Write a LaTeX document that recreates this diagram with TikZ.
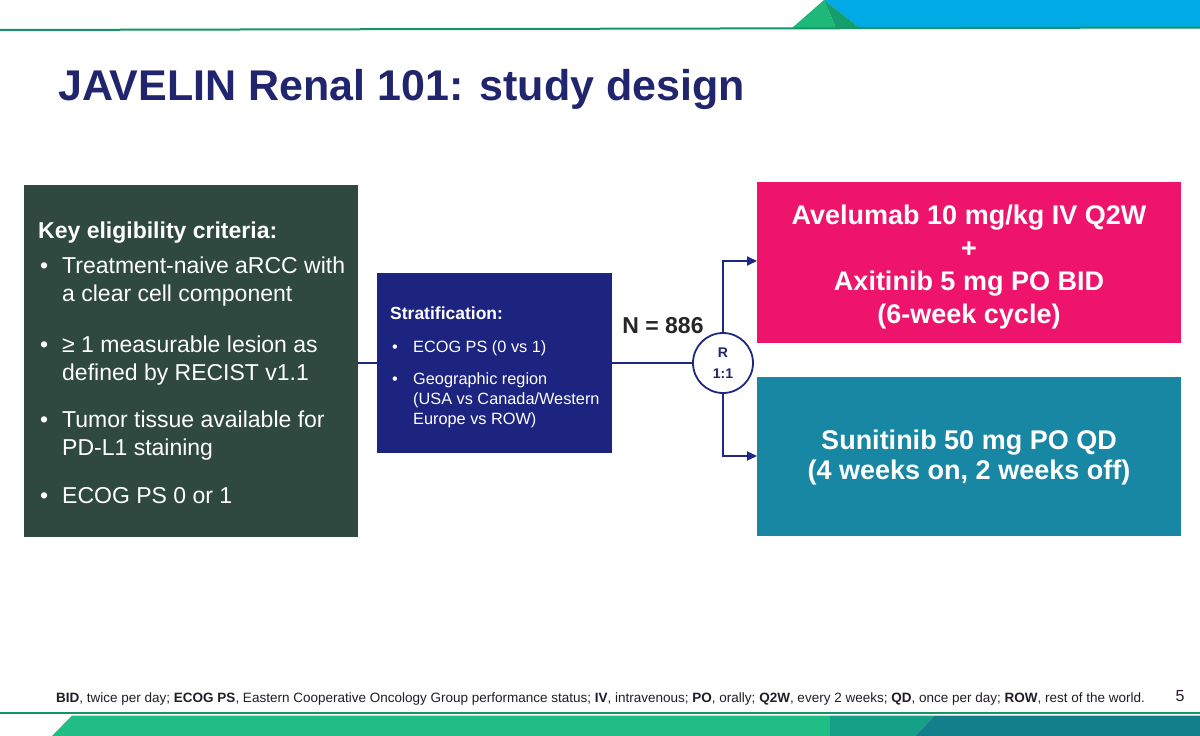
\documentclass[tikz,border=0pt]{standalone}
\usepackage{fontspec}
\setmainfont{Liberation Sans}
\usetikzlibrary{arrows.meta}
\definecolor{eligbg}{RGB}{47,73,64}
\definecolor{stratbg}{RGB}{28,36,128}
\definecolor{armpink}{RGB}{238,20,108}
\definecolor{armteal}{RGB}{24,135,163}
\definecolor{connavy}{RGB}{30,40,130}
\definecolor{titlenavy}{RGB}{33,37,110}
\definecolor{topblue}{RGB}{0,170,228}
\definecolor{lgreen}{RGB}{30,185,120}
\definecolor{dgreen}{RGB}{20,158,110}
\definecolor{linegreen}{RGB}{20,150,100}
\definecolor{bandgreen}{RGB}{32,190,132}
\definecolor{bandmid}{RGB}{22,160,135}
\definecolor{bandteal}{RGB}{18,128,138}
\definecolor{footcol}{RGB}{35,28,40}
\tikzset{
  box/.style={inner sep=0pt, outer sep=0pt, draw=none},
  eltext/.style={anchor=base west, inner sep=0pt, text=white, font=\fontsize{23}{28}\selectfont},
  sttext/.style={anchor=base west, inner sep=0pt, text=white, font=\fontsize{16.3}{20}\selectfont},
  armtext/.style={text=white, font=\bfseries\fontsize{27}{32.7}\selectfont, align=center},
  conn/.style={draw=connavy, line width=1.8pt},
  arr/.style={conn, -{Triangle[length=10pt,width=9pt]}}
}
\begin{document}
\begin{tikzpicture}[x=1pt,y=-1pt]
\useasboundingbox (0,0) rectangle (1200,736);
\fill[white] (0,0) rectangle (1200,736);
% top decoration
\fill[topblue] (824,0) -- (1200,0) -- (1200,28) -- (860,28) -- cycle;
\fill[lgreen] (792,28) -- (824,0) -- (836,28) -- cycle;
\fill[dgreen] (824,0) -- (860,28) -- (836,28) -- cycle;
\draw[linegreen, line width=2pt] (0,30) -- (1200,27.5);
% bottom decoration
\draw[linegreen, line width=1.5pt] (0,713) -- (1200,713);
\fill[bandgreen] (72,715.5) -- (830,715.5) -- (830,736) -- (52,736) -- cycle;
\fill[bandmid] (830,715.5) -- (935,715.5) -- (915,736) -- (830,736) -- cycle;
\fill[bandteal] (935,715.5) -- (1200,715.5) -- (1200,736) -- (915,736) -- cycle;
% title
\node[anchor=base west, inner sep=0pt, text=titlenavy, font=\bfseries\fontsize{43}{50}\selectfont] (title) at (58,100) {JAVELIN Renal 101: study design};
% eligibility box
\node[box, fill=eligbg, minimum width=334pt, minimum height=352pt, anchor=north west] (elig) at (24,185) {};
\node[eltext, font=\bfseries\fontsize{23}{28}\selectfont] (elh) at (38,238) {Key eligibility criteria:};
\node[eltext] (eb1) at (40,273) {•};
\node[eltext] (e1a) at (62,273) {Treatment-naive aRCC with};
\node[eltext] (e1b) at (62,301) {a clear cell component};
\node[eltext] (eb2) at (40,352) {•};
\node[eltext] (e2a) at (62,352) {≥ 1 measurable lesion as};
\node[eltext] (e2b) at (62,380) {defined by RECIST v1.1};
\node[eltext] (eb3) at (40,427) {•};
\node[eltext] (e3a) at (62,427) {Tumor tissue available for};
\node[eltext] (e3b) at (62,455) {PD-L1 staining};
\node[eltext] (eb4) at (40,503) {•};
\node[eltext] (e4a) at (62,503) {ECOG PS 0 or 1};
% stratification box
\node[box, fill=stratbg, minimum width=235pt, minimum height=180pt, anchor=north west] (strat) at (377,273) {};
\node[sttext, font=\bfseries\fontsize{17.5}{21}\selectfont] (sth) at (390,319) {Stratification:};
\node[sttext] (sb1) at (392,352) {•};
\node[sttext] (s1) at (413,352) {ECOG PS (0 vs 1)};
\node[sttext] (sb2) at (392,384) {•};
\node[sttext] (s2a) at (413,384) {Geographic region};
\node[sttext] (s2b) at (413,404) {(USA vs Canada/Western};
\node[sttext] (s2c) at (413,424) {Europe vs ROW)};
% N
\node[anchor=base, inner sep=0pt, font=\bfseries\fontsize{23}{28}\selectfont, text=black!85] (n) at (663,333) {N = 886};
% randomisation circle
\node[circle, draw=connavy, line width=1.8pt, fill=white, minimum size=60pt, inner sep=0pt, align=center, text=titlenavy, font=\bfseries\fontsize{14}{21}\selectfont] (rand) at (723,363) {R\\1:1};
% arms
\node[box, fill=armpink, minimum width=424pt, minimum height=161pt, anchor=north west] (arm1) at (757,182) {};
\node[armtext] (arm1t) at (969,267) {Avelumab 10 mg/kg IV Q2W\\+\\Axitinib 5 mg PO BID\\(6-week cycle)};
\node[box, fill=armteal, minimum width=424pt, minimum height=159pt, anchor=north west] (arm2) at (757,377) {};
\node[armtext, font=\bfseries\fontsize{27}{30}\selectfont] (arm2t) at (969,458) {Sunitinib 50 mg PO QD\\(4 weeks on, 2 weeks off)};
% connectors
\draw[conn] (elig.east |- strat.west) -- (strat.west);
\draw[conn] (strat.east) -- (rand.west);
\draw[arr] (rand.north) |- ([yshift=1.5pt]arm1.west);
\draw[arr] (rand.south) |- ([yshift=0.5pt]arm2.west);
% footnote
\node[anchor=base west, inner sep=0pt, text=footcol, font=\fontsize{13.5}{15}\selectfont] (foot) at (56,702) {\textbf{BID}, twice per day; \textbf{ECOG PS}, Eastern Cooperative Oncology Group performance status; \textbf{IV}, intravenous; \textbf{PO}, orally; \textbf{Q2W}, every 2 weeks; \textbf{QD}, once per day; \textbf{ROW}, rest of the world.};
\node[anchor=base, inner sep=0pt, text=footcol, font=\fontsize{16}{18}\selectfont] (page) at (1180,701) {5};
\end{tikzpicture}
\end{document}
